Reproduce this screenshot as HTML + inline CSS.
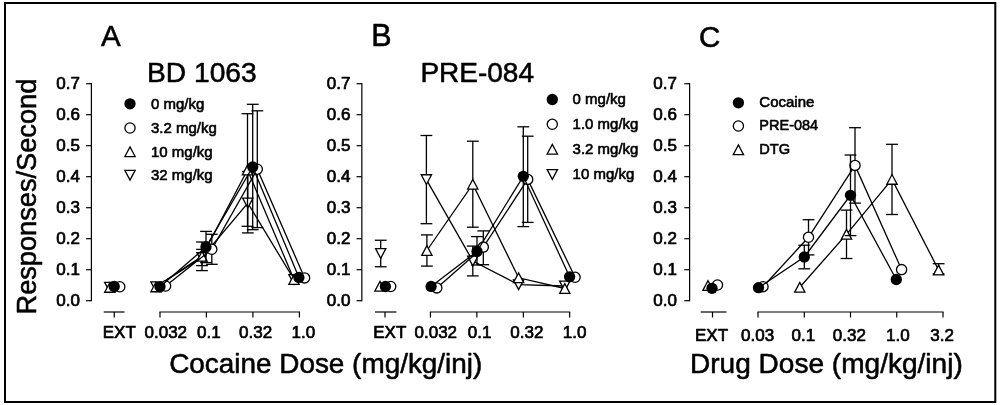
<!DOCTYPE html>
<html><head><meta charset="utf-8"><title>Figure</title>
<style>html,body{margin:0;padding:0;background:#fff;}svg{display:block;filter:blur(0.45px)}</style>
</head><body>
<svg width="1000" height="405" viewBox="0 0 1000 405" font-family="'Liberation Sans', sans-serif" fill="#000">
<rect x="5" y="3" width="990.3" height="399.0" fill="#fff" stroke="#000" stroke-width="2"/>
<line x1="91.40" y1="83.10" x2="91.40" y2="301.30" stroke="#000" stroke-width="1.2"/>
<line x1="86.10" y1="300.70" x2="91.40" y2="300.70" stroke="#000" stroke-width="1.2"/>
<text x="80.00" y="305.70" font-size="17" text-anchor="end" stroke="#000" stroke-width="0.7" stroke-linejoin="round">0.0</text>
<line x1="86.10" y1="269.70" x2="91.40" y2="269.70" stroke="#000" stroke-width="1.2"/>
<text x="80.00" y="274.70" font-size="17" text-anchor="end" stroke="#000" stroke-width="0.7" stroke-linejoin="round">0.1</text>
<line x1="86.10" y1="238.70" x2="91.40" y2="238.70" stroke="#000" stroke-width="1.2"/>
<text x="80.00" y="243.70" font-size="17" text-anchor="end" stroke="#000" stroke-width="0.7" stroke-linejoin="round">0.2</text>
<line x1="86.10" y1="207.70" x2="91.40" y2="207.70" stroke="#000" stroke-width="1.2"/>
<text x="80.00" y="212.70" font-size="17" text-anchor="end" stroke="#000" stroke-width="0.7" stroke-linejoin="round">0.3</text>
<line x1="86.10" y1="176.70" x2="91.40" y2="176.70" stroke="#000" stroke-width="1.2"/>
<text x="80.00" y="181.70" font-size="17" text-anchor="end" stroke="#000" stroke-width="0.7" stroke-linejoin="round">0.4</text>
<line x1="86.10" y1="145.70" x2="91.40" y2="145.70" stroke="#000" stroke-width="1.2"/>
<text x="80.00" y="150.70" font-size="17" text-anchor="end" stroke="#000" stroke-width="0.7" stroke-linejoin="round">0.5</text>
<line x1="86.10" y1="114.70" x2="91.40" y2="114.70" stroke="#000" stroke-width="1.2"/>
<text x="80.00" y="119.70" font-size="17" text-anchor="end" stroke="#000" stroke-width="0.7" stroke-linejoin="round">0.6</text>
<line x1="86.10" y1="83.70" x2="91.40" y2="83.70" stroke="#000" stroke-width="1.2"/>
<text x="80.00" y="88.70" font-size="17" text-anchor="end" stroke="#000" stroke-width="0.7" stroke-linejoin="round">0.7</text>
<line x1="103.75" y1="312.00" x2="124.50" y2="312.00" stroke="#000" stroke-width="1.2"/>
<line x1="114.25" y1="312.00" x2="114.25" y2="317.50" stroke="#000" stroke-width="1.2"/>
<line x1="159.40" y1="312.00" x2="300.00" y2="312.00" stroke="#000" stroke-width="1.2"/>
<line x1="160.00" y1="312.00" x2="160.00" y2="317.50" stroke="#000" stroke-width="1.2"/>
<line x1="206.40" y1="312.00" x2="206.40" y2="317.50" stroke="#000" stroke-width="1.2"/>
<line x1="252.90" y1="312.00" x2="252.90" y2="317.50" stroke="#000" stroke-width="1.2"/>
<line x1="299.40" y1="312.00" x2="299.40" y2="317.50" stroke="#000" stroke-width="1.2"/>
<text x="102.75" y="338.00" font-size="17" text-anchor="start" stroke="#000" stroke-width="0.7" stroke-linejoin="round">EXT</text>
<text x="144.50" y="338.00" font-size="17" text-anchor="start" stroke="#000" stroke-width="0.7" stroke-linejoin="round">0.032</text>
<text x="197.00" y="338.00" font-size="17" text-anchor="start" stroke="#000" stroke-width="0.7" stroke-linejoin="round">0.1</text>
<text x="239.00" y="338.00" font-size="17" text-anchor="start" stroke="#000" stroke-width="0.7" stroke-linejoin="round">0.32</text>
<text x="291.50" y="338.00" font-size="17" text-anchor="start" stroke="#000" stroke-width="0.7" stroke-linejoin="round">1.0</text>
<polyline points="156.00,286.70 202.00,257.50 247.80,203.00 294.00,279.50" fill="none" stroke="#000" stroke-width="1.3"/>
<line x1="202.00" y1="249.40" x2="202.00" y2="265.60" stroke="#000" stroke-width="1.3"/>
<line x1="196.10" y1="249.40" x2="207.90" y2="249.40" stroke="#000" stroke-width="1.3"/>
<line x1="196.10" y1="265.60" x2="207.90" y2="265.60" stroke="#000" stroke-width="1.3"/>
<line x1="247.80" y1="171.50" x2="247.80" y2="232.90" stroke="#000" stroke-width="1.3"/>
<line x1="241.90" y1="171.50" x2="253.70" y2="171.50" stroke="#000" stroke-width="1.3"/>
<line x1="241.90" y1="232.90" x2="253.70" y2="232.90" stroke="#000" stroke-width="1.3"/>
<polygon points="104.65,282.35 114.95,282.35 109.80,292.05" fill="#fff" stroke="#000" stroke-width="1.3" stroke-linejoin="miter"/>
<polygon points="150.85,281.85 161.15,281.85 156.00,291.55" fill="#fff" stroke="#000" stroke-width="1.3" stroke-linejoin="miter"/>
<polygon points="196.85,252.65 207.15,252.65 202.00,262.35" fill="#fff" stroke="#000" stroke-width="1.3" stroke-linejoin="miter"/>
<polygon points="242.65,198.15 252.95,198.15 247.80,207.85" fill="#fff" stroke="#000" stroke-width="1.3" stroke-linejoin="miter"/>
<polygon points="288.85,274.65 299.15,274.65 294.00,284.35" fill="#fff" stroke="#000" stroke-width="1.3" stroke-linejoin="miter"/>
<polyline points="156.00,286.90 202.00,256.30 247.50,170.00 294.00,279.50" fill="none" stroke="#000" stroke-width="1.3"/>
<line x1="202.00" y1="242.00" x2="202.00" y2="270.60" stroke="#000" stroke-width="1.3"/>
<line x1="196.10" y1="242.00" x2="207.90" y2="242.00" stroke="#000" stroke-width="1.3"/>
<line x1="196.10" y1="270.60" x2="207.90" y2="270.60" stroke="#000" stroke-width="1.3"/>
<line x1="247.50" y1="113.70" x2="247.50" y2="226.30" stroke="#000" stroke-width="1.3"/>
<line x1="241.60" y1="113.70" x2="253.40" y2="113.70" stroke="#000" stroke-width="1.3"/>
<line x1="241.60" y1="226.30" x2="253.40" y2="226.30" stroke="#000" stroke-width="1.3"/>
<polygon points="104.65,292.25 114.95,292.25 109.80,282.55" fill="#fff" stroke="#000" stroke-width="1.3" stroke-linejoin="miter"/>
<polygon points="150.85,291.75 161.15,291.75 156.00,282.05" fill="#fff" stroke="#000" stroke-width="1.3" stroke-linejoin="miter"/>
<polygon points="196.85,261.15 207.15,261.15 202.00,251.45" fill="#fff" stroke="#000" stroke-width="1.3" stroke-linejoin="miter"/>
<polygon points="242.35,174.85 252.65,174.85 247.50,165.15" fill="#fff" stroke="#000" stroke-width="1.3" stroke-linejoin="miter"/>
<polygon points="288.85,284.35 299.15,284.35 294.00,274.65" fill="#fff" stroke="#000" stroke-width="1.3" stroke-linejoin="miter"/>
<polyline points="165.60,286.00 211.80,249.30 257.30,169.20 304.60,277.90" fill="none" stroke="#000" stroke-width="1.3"/>
<line x1="211.80" y1="234.30" x2="211.80" y2="264.30" stroke="#000" stroke-width="1.3"/>
<line x1="205.90" y1="234.30" x2="217.70" y2="234.30" stroke="#000" stroke-width="1.3"/>
<line x1="205.90" y1="264.30" x2="217.70" y2="264.30" stroke="#000" stroke-width="1.3"/>
<line x1="257.30" y1="110.80" x2="257.30" y2="227.60" stroke="#000" stroke-width="1.3"/>
<line x1="251.40" y1="110.80" x2="263.20" y2="110.80" stroke="#000" stroke-width="1.3"/>
<line x1="251.40" y1="227.60" x2="263.20" y2="227.60" stroke="#000" stroke-width="1.3"/>
<circle cx="119.80" cy="286.80" r="5.10" fill="#fff" stroke="#000" stroke-width="1.3"/>
<circle cx="165.60" cy="286.00" r="5.10" fill="#fff" stroke="#000" stroke-width="1.3"/>
<circle cx="211.80" cy="249.30" r="5.10" fill="#fff" stroke="#000" stroke-width="1.3"/>
<circle cx="257.30" cy="169.20" r="5.10" fill="#fff" stroke="#000" stroke-width="1.3"/>
<circle cx="304.60" cy="277.90" r="5.10" fill="#fff" stroke="#000" stroke-width="1.3"/>
<polyline points="160.00,286.80 206.00,247.00 252.70,167.00 298.90,277.40" fill="none" stroke="#000" stroke-width="1.3"/>
<line x1="206.00" y1="231.40" x2="206.00" y2="262.60" stroke="#000" stroke-width="1.3"/>
<line x1="200.10" y1="231.40" x2="211.90" y2="231.40" stroke="#000" stroke-width="1.3"/>
<line x1="200.10" y1="262.60" x2="211.90" y2="262.60" stroke="#000" stroke-width="1.3"/>
<line x1="252.70" y1="104.30" x2="252.70" y2="229.70" stroke="#000" stroke-width="1.3"/>
<line x1="246.80" y1="104.30" x2="258.60" y2="104.30" stroke="#000" stroke-width="1.3"/>
<line x1="246.80" y1="229.70" x2="258.60" y2="229.70" stroke="#000" stroke-width="1.3"/>
<circle cx="114.20" cy="286.50" r="5.65" fill="#000"/>
<circle cx="160.00" cy="286.80" r="5.65" fill="#000"/>
<circle cx="206.00" cy="247.00" r="5.65" fill="#000"/>
<circle cx="252.70" cy="167.00" r="5.65" fill="#000"/>
<circle cx="298.90" cy="277.40" r="5.65" fill="#000"/>
<text x="101.00" y="46.20" font-size="29.5" text-anchor="start" stroke="#000" stroke-width="0.55" stroke-linejoin="round">A</text>
<text x="147.00" y="82.00" font-size="28.2" text-anchor="start" stroke="#000" stroke-width="0.55" stroke-linejoin="round">BD 1063</text>
<circle cx="130.00" cy="103.80" r="5.65" fill="#000"/>
<text x="151.00" y="108.70" font-size="15" text-anchor="start" stroke="#000" stroke-width="0.6" stroke-linejoin="round">0 mg/kg</text>
<circle cx="130.00" cy="128.00" r="5.10" fill="#fff" stroke="#000" stroke-width="1.3"/>
<text x="151.00" y="132.90" font-size="15" text-anchor="start" stroke="#000" stroke-width="0.6" stroke-linejoin="round">3.2 mg/kg</text>
<polygon points="124.85,156.55 135.15,156.55 130.00,146.85" fill="#fff" stroke="#000" stroke-width="1.3" stroke-linejoin="miter"/>
<text x="151.00" y="156.60" font-size="15" text-anchor="start" stroke="#000" stroke-width="0.6" stroke-linejoin="round">10 mg/kg</text>
<polygon points="124.85,170.35 135.15,170.35 130.00,180.05" fill="#fff" stroke="#000" stroke-width="1.3" stroke-linejoin="miter"/>
<text x="151.00" y="180.10" font-size="15" text-anchor="start" stroke="#000" stroke-width="0.6" stroke-linejoin="round">32 mg/kg</text>
<text transform="translate(35.7,314.5) rotate(-90)" font-size="27.2" stroke="#000" stroke-width="0.55">Responses/Second</text>
<text x="169.20" y="373.00" font-size="27.9" text-anchor="start" stroke="#000" stroke-width="0.55" stroke-linejoin="round">Cocaine Dose (mg/kg/inj)</text>
<line x1="361.85" y1="83.10" x2="361.85" y2="301.30" stroke="#000" stroke-width="1.2"/>
<line x1="356.55" y1="300.70" x2="361.85" y2="300.70" stroke="#000" stroke-width="1.2"/>
<text x="350.45" y="305.70" font-size="17" text-anchor="end" stroke="#000" stroke-width="0.7" stroke-linejoin="round">0.0</text>
<line x1="356.55" y1="269.70" x2="361.85" y2="269.70" stroke="#000" stroke-width="1.2"/>
<text x="350.45" y="274.70" font-size="17" text-anchor="end" stroke="#000" stroke-width="0.7" stroke-linejoin="round">0.1</text>
<line x1="356.55" y1="238.70" x2="361.85" y2="238.70" stroke="#000" stroke-width="1.2"/>
<text x="350.45" y="243.70" font-size="17" text-anchor="end" stroke="#000" stroke-width="0.7" stroke-linejoin="round">0.2</text>
<line x1="356.55" y1="207.70" x2="361.85" y2="207.70" stroke="#000" stroke-width="1.2"/>
<text x="350.45" y="212.70" font-size="17" text-anchor="end" stroke="#000" stroke-width="0.7" stroke-linejoin="round">0.3</text>
<line x1="356.55" y1="176.70" x2="361.85" y2="176.70" stroke="#000" stroke-width="1.2"/>
<text x="350.45" y="181.70" font-size="17" text-anchor="end" stroke="#000" stroke-width="0.7" stroke-linejoin="round">0.4</text>
<line x1="356.55" y1="145.70" x2="361.85" y2="145.70" stroke="#000" stroke-width="1.2"/>
<text x="350.45" y="150.70" font-size="17" text-anchor="end" stroke="#000" stroke-width="0.7" stroke-linejoin="round">0.5</text>
<line x1="356.55" y1="114.70" x2="361.85" y2="114.70" stroke="#000" stroke-width="1.2"/>
<text x="350.45" y="119.70" font-size="17" text-anchor="end" stroke="#000" stroke-width="0.7" stroke-linejoin="round">0.6</text>
<line x1="356.55" y1="83.70" x2="361.85" y2="83.70" stroke="#000" stroke-width="1.2"/>
<text x="350.45" y="88.70" font-size="17" text-anchor="end" stroke="#000" stroke-width="0.7" stroke-linejoin="round">0.7</text>
<line x1="375.00" y1="312.00" x2="396.45" y2="312.00" stroke="#000" stroke-width="1.2"/>
<line x1="385.00" y1="312.00" x2="385.00" y2="317.50" stroke="#000" stroke-width="1.2"/>
<line x1="429.85" y1="312.00" x2="570.25" y2="312.00" stroke="#000" stroke-width="1.2"/>
<line x1="430.45" y1="312.00" x2="430.45" y2="317.50" stroke="#000" stroke-width="1.2"/>
<line x1="476.85" y1="312.00" x2="476.85" y2="317.50" stroke="#000" stroke-width="1.2"/>
<line x1="523.35" y1="312.00" x2="523.35" y2="317.50" stroke="#000" stroke-width="1.2"/>
<line x1="569.65" y1="312.00" x2="569.65" y2="317.50" stroke="#000" stroke-width="1.2"/>
<text x="373.25" y="338.00" font-size="17" text-anchor="start" stroke="#000" stroke-width="0.7" stroke-linejoin="round">EXT</text>
<text x="414.50" y="338.00" font-size="17" text-anchor="start" stroke="#000" stroke-width="0.7" stroke-linejoin="round">0.032</text>
<text x="467.75" y="338.00" font-size="17" text-anchor="start" stroke="#000" stroke-width="0.7" stroke-linejoin="round">0.1</text>
<text x="510.25" y="338.00" font-size="17" text-anchor="start" stroke="#000" stroke-width="0.7" stroke-linejoin="round">0.32</text>
<text x="562.75" y="338.00" font-size="17" text-anchor="start" stroke="#000" stroke-width="0.7" stroke-linejoin="round">1.0</text>
<polyline points="426.40,179.60 472.80,261.00 518.60,284.70 564.80,286.00" fill="none" stroke="#000" stroke-width="1.3"/>
<line x1="380.70" y1="240.25" x2="380.70" y2="266.75" stroke="#000" stroke-width="1.3"/>
<line x1="374.80" y1="240.25" x2="386.60" y2="240.25" stroke="#000" stroke-width="1.3"/>
<line x1="374.80" y1="266.75" x2="386.60" y2="266.75" stroke="#000" stroke-width="1.3"/>
<line x1="426.40" y1="135.50" x2="426.40" y2="223.70" stroke="#000" stroke-width="1.3"/>
<line x1="420.50" y1="135.50" x2="432.30" y2="135.50" stroke="#000" stroke-width="1.3"/>
<line x1="420.50" y1="223.70" x2="432.30" y2="223.70" stroke="#000" stroke-width="1.3"/>
<line x1="472.80" y1="246.10" x2="472.80" y2="275.90" stroke="#000" stroke-width="1.3"/>
<line x1="466.90" y1="246.10" x2="478.70" y2="246.10" stroke="#000" stroke-width="1.3"/>
<line x1="466.90" y1="275.90" x2="478.70" y2="275.90" stroke="#000" stroke-width="1.3"/>
<polygon points="375.55,248.65 385.85,248.65 380.70,258.35" fill="#fff" stroke="#000" stroke-width="1.3" stroke-linejoin="miter"/>
<polygon points="421.25,174.75 431.55,174.75 426.40,184.45" fill="#fff" stroke="#000" stroke-width="1.3" stroke-linejoin="miter"/>
<polygon points="467.65,256.15 477.95,256.15 472.80,265.85" fill="#fff" stroke="#000" stroke-width="1.3" stroke-linejoin="miter"/>
<polygon points="513.45,279.85 523.75,279.85 518.60,289.55" fill="#fff" stroke="#000" stroke-width="1.3" stroke-linejoin="miter"/>
<polygon points="559.65,281.15 569.95,281.15 564.80,290.85" fill="#fff" stroke="#000" stroke-width="1.3" stroke-linejoin="miter"/>
<polyline points="426.90,250.50 472.80,184.20 518.60,277.80 564.80,288.50" fill="none" stroke="#000" stroke-width="1.3"/>
<line x1="426.90" y1="234.90" x2="426.90" y2="266.10" stroke="#000" stroke-width="1.3"/>
<line x1="421.00" y1="234.90" x2="432.80" y2="234.90" stroke="#000" stroke-width="1.3"/>
<line x1="421.00" y1="266.10" x2="432.80" y2="266.10" stroke="#000" stroke-width="1.3"/>
<line x1="472.80" y1="141.20" x2="472.80" y2="227.20" stroke="#000" stroke-width="1.3"/>
<line x1="466.90" y1="141.20" x2="478.70" y2="141.20" stroke="#000" stroke-width="1.3"/>
<line x1="466.90" y1="227.20" x2="478.70" y2="227.20" stroke="#000" stroke-width="1.3"/>
<polygon points="374.85,291.05 385.15,291.05 380.00,281.35" fill="#fff" stroke="#000" stroke-width="1.3" stroke-linejoin="miter"/>
<polygon points="421.75,255.35 432.05,255.35 426.90,245.65" fill="#fff" stroke="#000" stroke-width="1.3" stroke-linejoin="miter"/>
<polygon points="467.65,189.05 477.95,189.05 472.80,179.35" fill="#fff" stroke="#000" stroke-width="1.3" stroke-linejoin="miter"/>
<polygon points="513.45,282.65 523.75,282.65 518.60,272.95" fill="#fff" stroke="#000" stroke-width="1.3" stroke-linejoin="miter"/>
<polygon points="559.65,293.35 569.95,293.35 564.80,283.65" fill="#fff" stroke="#000" stroke-width="1.3" stroke-linejoin="miter"/>
<polyline points="436.80,287.90 483.30,247.10 527.70,179.40 575.10,277.30" fill="none" stroke="#000" stroke-width="1.3"/>
<line x1="483.30" y1="230.90" x2="483.30" y2="264.70" stroke="#000" stroke-width="1.3"/>
<line x1="477.40" y1="230.90" x2="489.20" y2="230.90" stroke="#000" stroke-width="1.3"/>
<line x1="477.40" y1="264.70" x2="489.20" y2="264.70" stroke="#000" stroke-width="1.3"/>
<line x1="527.70" y1="136.20" x2="527.70" y2="222.40" stroke="#000" stroke-width="1.3"/>
<line x1="521.80" y1="136.20" x2="533.60" y2="136.20" stroke="#000" stroke-width="1.3"/>
<line x1="521.80" y1="222.40" x2="533.60" y2="222.40" stroke="#000" stroke-width="1.3"/>
<circle cx="390.70" cy="286.50" r="5.10" fill="#fff" stroke="#000" stroke-width="1.3"/>
<circle cx="436.80" cy="287.90" r="5.10" fill="#fff" stroke="#000" stroke-width="1.3"/>
<circle cx="483.30" cy="247.10" r="5.10" fill="#fff" stroke="#000" stroke-width="1.3"/>
<circle cx="527.70" cy="179.40" r="5.10" fill="#fff" stroke="#000" stroke-width="1.3"/>
<circle cx="575.10" cy="277.30" r="5.10" fill="#fff" stroke="#000" stroke-width="1.3"/>
<polyline points="431.10,286.40 477.00,251.40 523.30,176.30 569.60,276.80" fill="none" stroke="#000" stroke-width="1.3"/>
<line x1="477.00" y1="236.60" x2="477.00" y2="265.00" stroke="#000" stroke-width="1.3"/>
<line x1="471.10" y1="236.60" x2="482.90" y2="236.60" stroke="#000" stroke-width="1.3"/>
<line x1="471.10" y1="265.00" x2="482.90" y2="265.00" stroke="#000" stroke-width="1.3"/>
<line x1="523.30" y1="126.80" x2="523.30" y2="226.60" stroke="#000" stroke-width="1.3"/>
<line x1="517.40" y1="126.80" x2="529.20" y2="126.80" stroke="#000" stroke-width="1.3"/>
<line x1="517.40" y1="226.60" x2="529.20" y2="226.60" stroke="#000" stroke-width="1.3"/>
<circle cx="385.40" cy="286.50" r="5.65" fill="#000"/>
<circle cx="431.10" cy="286.40" r="5.65" fill="#000"/>
<circle cx="477.00" cy="251.40" r="5.65" fill="#000"/>
<circle cx="523.30" cy="176.30" r="5.65" fill="#000"/>
<circle cx="569.60" cy="276.80" r="5.65" fill="#000"/>
<text x="371.20" y="46.40" font-size="30.5" text-anchor="start" stroke="#000" stroke-width="0.55" stroke-linejoin="round">B</text>
<text x="420.40" y="82.20" font-size="28" text-anchor="start" stroke="#000" stroke-width="0.55" stroke-linejoin="round">PRE-084</text>
<circle cx="552.30" cy="99.50" r="5.65" fill="#000"/>
<text x="572.60" y="104.40" font-size="15" text-anchor="start" stroke="#000" stroke-width="0.6" stroke-linejoin="round">0 mg/kg</text>
<circle cx="552.30" cy="124.30" r="5.10" fill="#fff" stroke="#000" stroke-width="1.3"/>
<text x="572.60" y="129.20" font-size="15" text-anchor="start" stroke="#000" stroke-width="0.6" stroke-linejoin="round">1.0 mg/kg</text>
<polygon points="547.15,154.05 557.45,154.05 552.30,144.35" fill="#fff" stroke="#000" stroke-width="1.3" stroke-linejoin="miter"/>
<text x="572.60" y="154.10" font-size="15" text-anchor="start" stroke="#000" stroke-width="0.6" stroke-linejoin="round">3.2 mg/kg</text>
<polygon points="547.15,169.65 557.45,169.65 552.30,179.35" fill="#fff" stroke="#000" stroke-width="1.3" stroke-linejoin="miter"/>
<text x="572.60" y="179.40" font-size="15" text-anchor="start" stroke="#000" stroke-width="0.6" stroke-linejoin="round">10 mg/kg</text>
<line x1="689.60" y1="83.10" x2="689.60" y2="301.30" stroke="#000" stroke-width="1.2"/>
<line x1="684.30" y1="300.70" x2="689.60" y2="300.70" stroke="#000" stroke-width="1.2"/>
<text x="677.00" y="305.70" font-size="17" text-anchor="end" stroke="#000" stroke-width="0.7" stroke-linejoin="round">0.0</text>
<line x1="684.30" y1="269.70" x2="689.60" y2="269.70" stroke="#000" stroke-width="1.2"/>
<text x="677.00" y="274.70" font-size="17" text-anchor="end" stroke="#000" stroke-width="0.7" stroke-linejoin="round">0.1</text>
<line x1="684.30" y1="238.70" x2="689.60" y2="238.70" stroke="#000" stroke-width="1.2"/>
<text x="677.00" y="243.70" font-size="17" text-anchor="end" stroke="#000" stroke-width="0.7" stroke-linejoin="round">0.2</text>
<line x1="684.30" y1="207.70" x2="689.60" y2="207.70" stroke="#000" stroke-width="1.2"/>
<text x="677.00" y="212.70" font-size="17" text-anchor="end" stroke="#000" stroke-width="0.7" stroke-linejoin="round">0.3</text>
<line x1="684.30" y1="176.70" x2="689.60" y2="176.70" stroke="#000" stroke-width="1.2"/>
<text x="677.00" y="181.70" font-size="17" text-anchor="end" stroke="#000" stroke-width="0.7" stroke-linejoin="round">0.4</text>
<line x1="684.30" y1="145.70" x2="689.60" y2="145.70" stroke="#000" stroke-width="1.2"/>
<text x="677.00" y="150.70" font-size="17" text-anchor="end" stroke="#000" stroke-width="0.7" stroke-linejoin="round">0.5</text>
<line x1="684.30" y1="114.70" x2="689.60" y2="114.70" stroke="#000" stroke-width="1.2"/>
<text x="677.00" y="119.70" font-size="17" text-anchor="end" stroke="#000" stroke-width="0.7" stroke-linejoin="round">0.6</text>
<line x1="684.30" y1="83.70" x2="689.60" y2="83.70" stroke="#000" stroke-width="1.2"/>
<text x="677.00" y="88.70" font-size="17" text-anchor="end" stroke="#000" stroke-width="0.7" stroke-linejoin="round">0.7</text>
<line x1="700.80" y1="312.00" x2="726.40" y2="312.00" stroke="#000" stroke-width="1.2"/>
<line x1="712.50" y1="312.00" x2="712.50" y2="317.50" stroke="#000" stroke-width="1.2"/>
<line x1="757.40" y1="312.00" x2="943.60" y2="312.00" stroke="#000" stroke-width="1.2"/>
<line x1="758.00" y1="312.00" x2="758.00" y2="317.50" stroke="#000" stroke-width="1.2"/>
<line x1="804.30" y1="312.00" x2="804.30" y2="317.50" stroke="#000" stroke-width="1.2"/>
<line x1="850.50" y1="312.00" x2="850.50" y2="317.50" stroke="#000" stroke-width="1.2"/>
<line x1="896.75" y1="312.00" x2="896.75" y2="317.50" stroke="#000" stroke-width="1.2"/>
<line x1="943.00" y1="312.00" x2="943.00" y2="317.50" stroke="#000" stroke-width="1.2"/>
<text x="695.00" y="340.50" font-size="17" text-anchor="start" stroke="#000" stroke-width="0.7" stroke-linejoin="round">EXT</text>
<text x="741.00" y="340.50" font-size="17" text-anchor="start" stroke="#000" stroke-width="0.7" stroke-linejoin="round">0.03</text>
<text x="791.50" y="340.50" font-size="17" text-anchor="start" stroke="#000" stroke-width="0.7" stroke-linejoin="round">0.1</text>
<text x="832.75" y="340.50" font-size="17" text-anchor="start" stroke="#000" stroke-width="0.7" stroke-linejoin="round">0.32</text>
<text x="886.00" y="340.50" font-size="17" text-anchor="start" stroke="#000" stroke-width="0.7" stroke-linejoin="round">1.0</text>
<text x="930.25" y="340.50" font-size="17" text-anchor="start" stroke="#000" stroke-width="0.7" stroke-linejoin="round">3.2</text>
<polyline points="799.80,287.30 846.50,234.30 892.00,179.40 938.60,270.00" fill="none" stroke="#000" stroke-width="1.3"/>
<line x1="846.50" y1="210.10" x2="846.50" y2="258.50" stroke="#000" stroke-width="1.3"/>
<line x1="840.60" y1="210.10" x2="852.40" y2="210.10" stroke="#000" stroke-width="1.3"/>
<line x1="840.60" y1="258.50" x2="852.40" y2="258.50" stroke="#000" stroke-width="1.3"/>
<line x1="892.00" y1="144.30" x2="892.00" y2="214.50" stroke="#000" stroke-width="1.3"/>
<line x1="886.10" y1="144.30" x2="897.90" y2="144.30" stroke="#000" stroke-width="1.3"/>
<line x1="886.10" y1="214.50" x2="897.90" y2="214.50" stroke="#000" stroke-width="1.3"/>
<line x1="938.60" y1="263.70" x2="938.60" y2="273.80" stroke="#000" stroke-width="1.3"/>
<line x1="932.70" y1="263.70" x2="944.50" y2="263.70" stroke="#000" stroke-width="1.3"/>
<line x1="932.70" y1="273.80" x2="944.50" y2="273.80" stroke="#000" stroke-width="1.3"/>
<polygon points="702.85,290.35 713.15,290.35 708.00,280.65" fill="#fff" stroke="#000" stroke-width="1.3" stroke-linejoin="miter"/>
<polygon points="794.65,292.15 804.95,292.15 799.80,282.45" fill="#fff" stroke="#000" stroke-width="1.3" stroke-linejoin="miter"/>
<polygon points="841.35,239.15 851.65,239.15 846.50,229.45" fill="#fff" stroke="#000" stroke-width="1.3" stroke-linejoin="miter"/>
<polygon points="886.85,184.25 897.15,184.25 892.00,174.55" fill="#fff" stroke="#000" stroke-width="1.3" stroke-linejoin="miter"/>
<polygon points="933.45,274.85 943.75,274.85 938.60,265.15" fill="#fff" stroke="#000" stroke-width="1.3" stroke-linejoin="miter"/>
<polyline points="763.00,286.70 808.50,237.30 855.00,165.40 901.60,269.60" fill="none" stroke="#000" stroke-width="1.3"/>
<line x1="808.50" y1="219.70" x2="808.50" y2="254.90" stroke="#000" stroke-width="1.3"/>
<line x1="802.60" y1="219.70" x2="814.40" y2="219.70" stroke="#000" stroke-width="1.3"/>
<line x1="802.60" y1="254.90" x2="814.40" y2="254.90" stroke="#000" stroke-width="1.3"/>
<line x1="855.00" y1="127.70" x2="855.00" y2="203.10" stroke="#000" stroke-width="1.3"/>
<line x1="849.10" y1="127.70" x2="860.90" y2="127.70" stroke="#000" stroke-width="1.3"/>
<line x1="849.10" y1="203.10" x2="860.90" y2="203.10" stroke="#000" stroke-width="1.3"/>
<circle cx="717.50" cy="285.00" r="5.10" fill="#fff" stroke="#000" stroke-width="1.3"/>
<circle cx="763.00" cy="286.70" r="5.10" fill="#fff" stroke="#000" stroke-width="1.3"/>
<circle cx="808.50" cy="237.30" r="5.10" fill="#fff" stroke="#000" stroke-width="1.3"/>
<circle cx="855.00" cy="165.40" r="5.10" fill="#fff" stroke="#000" stroke-width="1.3"/>
<circle cx="901.60" cy="269.60" r="5.10" fill="#fff" stroke="#000" stroke-width="1.3"/>
<polyline points="758.50,287.70 804.30,257.00 850.50,195.30 896.30,279.50" fill="none" stroke="#000" stroke-width="1.3"/>
<line x1="804.30" y1="245.20" x2="804.30" y2="268.80" stroke="#000" stroke-width="1.3"/>
<line x1="798.40" y1="245.20" x2="810.20" y2="245.20" stroke="#000" stroke-width="1.3"/>
<line x1="798.40" y1="268.80" x2="810.20" y2="268.80" stroke="#000" stroke-width="1.3"/>
<line x1="850.50" y1="155.00" x2="850.50" y2="235.60" stroke="#000" stroke-width="1.3"/>
<line x1="844.60" y1="155.00" x2="856.40" y2="155.00" stroke="#000" stroke-width="1.3"/>
<line x1="844.60" y1="235.60" x2="856.40" y2="235.60" stroke="#000" stroke-width="1.3"/>
<circle cx="712.00" cy="288.30" r="5.65" fill="#000"/>
<circle cx="758.50" cy="287.70" r="5.65" fill="#000"/>
<circle cx="804.30" cy="257.00" r="5.65" fill="#000"/>
<circle cx="850.50" cy="195.30" r="5.65" fill="#000"/>
<circle cx="896.30" cy="279.50" r="5.65" fill="#000"/>
<text x="699.00" y="46.70" font-size="29.5" text-anchor="start" stroke="#000" stroke-width="0.55" stroke-linejoin="round">C</text>
<circle cx="738.40" cy="102.80" r="5.65" fill="#000"/>
<text x="759.30" y="107.20" font-size="15" text-anchor="start" stroke="#000" stroke-width="0.6" stroke-linejoin="round">Cocaine</text>
<circle cx="738.40" cy="126.00" r="5.10" fill="#fff" stroke="#000" stroke-width="1.3"/>
<text x="759.30" y="130.40" font-size="15" text-anchor="start" stroke="#000" stroke-width="0.6" stroke-linejoin="round" textLength="58.9" lengthAdjust="spacingAndGlyphs">PRE-084</text>
<polygon points="733.25,154.65 743.55,154.65 738.40,144.95" fill="#fff" stroke="#000" stroke-width="1.3" stroke-linejoin="miter"/>
<text x="759.30" y="154.20" font-size="15" text-anchor="start" stroke="#000" stroke-width="0.6" stroke-linejoin="round" textLength="30.9" lengthAdjust="spacingAndGlyphs">DTG</text>
<text x="690.00" y="373.40" font-size="28.05" text-anchor="start" stroke="#000" stroke-width="0.55" stroke-linejoin="round">Drug Dose (mg/kg/inj)</text>
</svg>
</body></html>
